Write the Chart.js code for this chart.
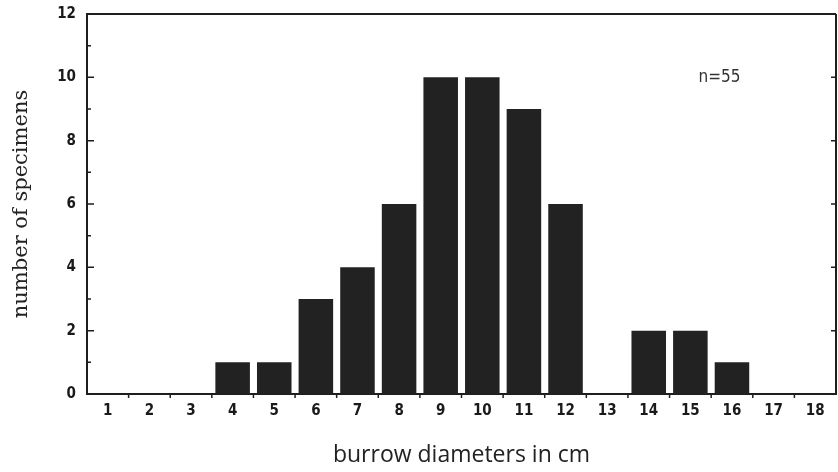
<!DOCTYPE html>
<html>
<head>
<meta charset="utf-8">
<script src="https://cdn.jsdelivr.net/npm/chart.js@4/dist/chart.umd.min.js"></script>
<style>
  html, body { margin: 0; padding: 0; background: #fff; overflow: hidden; }
  #wrap { width: 838px; height: 472px; }
</style>
</head>
<body>
<div id="wrap"><canvas id="burrow-chart"></canvas></div>
<script>
// burrow diameter classes (cm) and how many specimens fell in each
const diameters = ["1", "2", "3", "4", "5", "6", "7", "8", "9", "10", "11", "12", "13", "14", "15", "16", "17", "18"];
const specimenCounts = [0, 0, 0, 1, 1, 3, 4, 6, 10, 10, 9, 6, 0, 2, 2, 1, 0, 0];
const yTicks = [0, 2, 4, 6, 8, 10, 12];
const sampleNote = "n=55";

const ink = "#1e1e1e";
const tickFont = "'Liberation Sans Narrow', 'DejaVu Sans Condensed', sans-serif";

// frame on top/right + the little inward tick marks, drawn from the scales
const framePlugin = {
  id: "frame",
  afterDraw(chart) {
    const { ctx, chartArea: a, scales } = chart;
    const y = scales.y, x = scales.x;
    ctx.save();
    ctx.strokeStyle = ink;
    ctx.lineWidth = 2;
    ctx.beginPath();
    ctx.moveTo(a.left, a.top);
    ctx.lineTo(a.right, a.top);
    ctx.moveTo(a.right, a.top);
    ctx.lineTo(a.right, a.bottom);
    ctx.stroke();

    ctx.lineWidth = 1.5;
    ctx.beginPath();
    for (let v = 1; v < 12; v++) {
      const py = y.getPixelForValue(v);
      const len = v % 2 === 0 ? 7 : 4;
      ctx.moveTo(a.left, py);
      ctx.lineTo(a.left + len, py);
      if (v % 2 === 0) {
        ctx.moveTo(a.right, py);
        ctx.lineTo(a.right - 5, py);
      }
    }
    for (let i = 0; i < diameters.length - 1; i++) {
      const px = (x.getPixelForValue(i) + x.getPixelForValue(i + 1)) / 2;
      ctx.moveTo(px, a.bottom);
      ctx.lineTo(px, a.bottom + 4);
    }
    ctx.stroke();

    // sample size note
    ctx.fillStyle = "#333";
    ctx.font = "17px " + tickFont;
    ctx.textAlign = "center";
    ctx.textBaseline = "middle";
    ctx.fillText(sampleNote, x.getPixelForValue(14.7), y.getPixelForValue(10));
    ctx.restore();
  }
};

new Chart(document.getElementById("burrow-chart"), {
  type: "bar",
  data: {
    labels: diameters,
    datasets: [
      {
        label: "specimens",
        data: specimenCounts,
        backgroundColor: "#222222",
        borderWidth: 0,
        categoryPercentage: 1,
        barPercentage: 0.83
      }
    ]
  },
  options: {
    responsive: true,
    maintainAspectRatio: false,
    animation: false,
    layout: { padding: { left: 0, right: 2, top: 14, bottom: 0 } },
    plugins: {
      legend: { display: false },
      tooltip: { enabled: false }
    },
    scales: {
      x: {
        grid: { display: false, drawTicks: false },
        border: { display: true, color: ink, width: 2 },
        ticks: {
          color: "#1a1a1a",
          padding: 8,
          maxRotation: 0,
          font: { family: tickFont, size: 15, weight: "bold" }
        },
        title: {
          display: true,
          text: "burrow diameters in cm",
          color: "#222",
          padding: { top: 0, bottom: 3 },
          font: { family: "'Open Sans', sans-serif", size: 23 }
        },
        afterFit: (s) => { s.height = 78; }
      },
      y: {
        min: 0,
        max: 12,
        afterBuildTicks: (s) => { s.ticks = yTicks.map((v) => ({ value: v })); },
        grid: { display: false, drawTicks: false },
        border: { display: true, color: ink, width: 2 },
        ticks: {
          color: "#1a1a1a",
          padding: 11,
          font: { family: tickFont, size: 15, weight: "bold" }
        },
        title: {
          display: true,
          text: "number of specimens",
          color: "#222",
          padding: { top: 9, bottom: 0 },
          font: { family: "'DejaVu Serif', serif", size: 21 }
        },
        afterFit: (s) => { s.width = 87; s.paddingTop = 0; s.paddingBottom = 0; }
      }
    }
  },
  plugins: [framePlugin]
});
</script>
</body>
</html>
